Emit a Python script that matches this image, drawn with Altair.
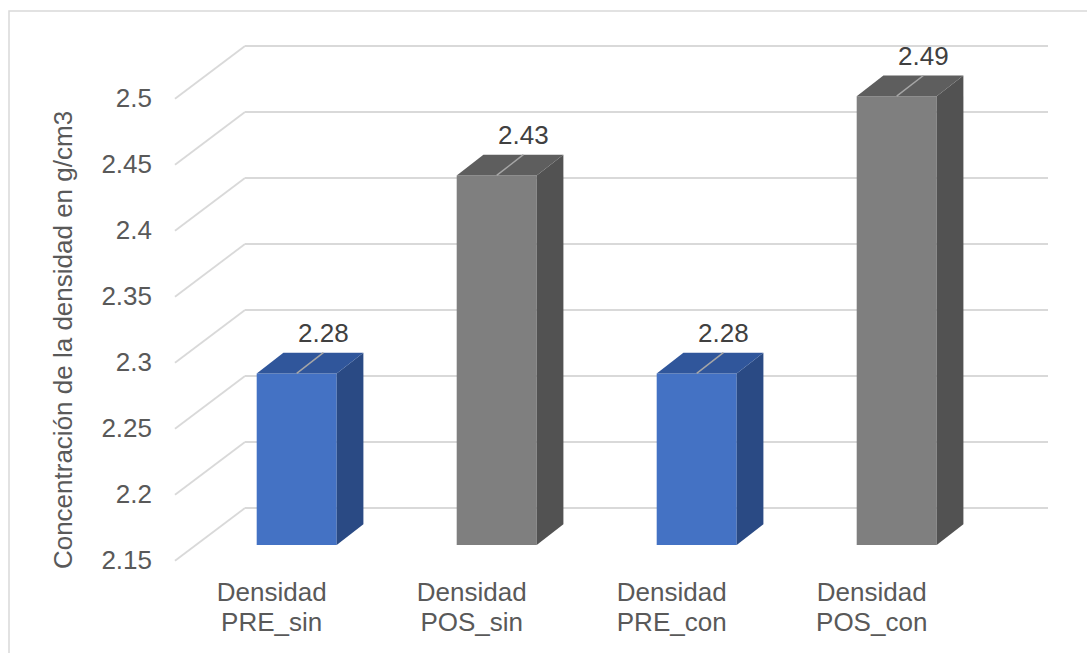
import altair as alt
import pandas as pd

# ---------------- data ----------------
categories = ["Densidad PRE_sin", "Densidad POS_sin", "Densidad PRE_con", "Densidad POS_con"]
cat_labels = ["Densidad\nPRE_sin", "Densidad\nPOS_sin", "Densidad\nPRE_con", "Densidad\nPOS_con"]
values = [2.28, 2.43, 2.28, 2.49]
value_labels = ["2.28", "2.43", "2.28", "2.49"]
front_colors = ["#4472C4", "#7F7F7F", "#4472C4", "#7F7F7F"]
top_colors = ["#30569B", "#5E5E5E", "#30569B", "#5E5E5E"]
side_colors = ["#2A4A84", "#525252", "#2A4A84", "#525252"]
ticks = [2.15, 2.2, 2.25, 2.3, 2.35, 2.4, 2.45, 2.5]
tick_labels = ["2.15", "2.2", "2.25", "2.3", "2.35", "2.4", "2.45", "2.5"]
y_title = "Concentración de la densidad en g/cm3"

# ---------------- geometry (3D oblique look) ----------------
W, H = 1087, 653
BASE = 2.15
PX0, SX = 296.7, 200.0        # pixel of category 0 centre, pixels per category
PY0, SY = 545.0, 1320.0       # pixel of BASE on the bar plane, pixels per unit
x_dom = [(0 - PX0) / SX, (W - PX0) / SX]
y_dom = [BASE - (H - PY0) / SY, BASE + PY0 / SY]

HALF = 0.2                    # half bar width (category units)
DX = 26.7 / SX                # bar depth, x
DY = 20.7 / SY                # bar depth, y
WALL_X0, WALL_X1 = (245 - PX0) / SX, (1048 - PX0) / SX
WALL_DY = 37.0 / SY
FRONT_X = (175 - PX0) / SX
FRONT_DY = -15.7 / SY
LABEL_SHIFT = -0.125

FONT = "Liberation Sans"
xs = alt.Scale(domain=x_dom, nice=False, zero=False)
ys = alt.Scale(domain=y_dom, nice=False, zero=False)

def X(f):
    return alt.X(f, type="quantitative", scale=xs, axis=None)

def Y(f):
    return alt.Y(f, type="quantitative", scale=ys, axis=None)

# tables
grid = pd.DataFrame({"t": ticks, "lab": tick_labels})
grid["wy"] = grid["t"] + WALL_DY
grid["fy"] = grid["t"] + FRONT_DY
grid["wx0"] = WALL_X0
grid["wx1"] = WALL_X1
grid["fx"] = FRONT_X

bars = pd.DataFrame({
    "name": categories, "v": values, "vl": value_labels, "cl": cat_labels,
    "fc": front_colors, "tc": top_colors, "sc": side_colors,
})
bars["i"] = range(len(bars))
bars["x0"] = bars["i"] - HALF
bars["x1"] = bars["i"] + HALF
bars["base"] = BASE
bars["lx0"] = bars["i"]
bars["lx1"] = bars["i"] + DX
bars["ly1"] = bars["v"] + DY
bars["cx"] = bars["i"] + LABEL_SHIFT

side_rows, top_rows = [], []
for r in bars.to_dict("records"):
    n, v, x0, x1 = r["name"], r["v"], r["x0"], r["x1"]
    side_rows.append({"name": n, "c": r["sc"], "x": x1, "y": BASE, "y2": v})
    side_rows.append({"name": n, "c": r["sc"], "x": x1 + DX, "y": BASE + DY, "y2": v + DY})
    top_rows.append({"name": n, "c": r["tc"], "x": x0, "y": v, "y2": v})
    top_rows.append({"name": n, "c": r["tc"], "x": x0 + DX, "y": v + DY, "y2": v})
    top_rows.append({"name": n, "c": r["tc"], "x": x1, "y": v + DY, "y2": v})
    top_rows.append({"name": n, "c": r["tc"], "x": x1 + DX, "y": v + DY, "y2": v + DY})
side = pd.DataFrame(side_rows)
top = pd.DataFrame(top_rows)

# ---------------- layers ----------------
border = alt.Chart(pd.DataFrame({"a": [0]})).mark_rect(
    fill=None, stroke="#D9D9D9", strokeWidth=1.5
).encode(x=alt.value(9), x2=alt.value(W + 20), y=alt.value(11), y2=alt.value(H + 20))

wall = alt.Chart(grid).mark_rule(color="#D9D9D9", strokeWidth=1.8).encode(
    x=X("wx0"), x2="wx1", y=Y("wy"))
diag = alt.Chart(grid).mark_rule(color="#D9D9D9", strokeWidth=1.8).encode(
    x=X("fx"), x2="wx0", y=Y("fy"), y2="wy")
tick_text = alt.Chart(grid).mark_text(
    align="right", baseline="middle", dx=-23, font=FONT, fontSize=26, color="#595959"
).encode(x=X("fx"), y=Y("fy"), text="lab")

front = alt.Chart(bars).mark_rect().encode(
    x=X("x0"), x2="x1", y=Y("base"), y2="v",
    color=alt.Color("fc", type="nominal", scale=None))
side_l = alt.Chart(side).mark_area(orient="vertical").encode(
    x=X("x"), y=Y("y"), y2="y2", detail="name",
    color=alt.Color("c", type="nominal", scale=None))
top_l = alt.Chart(top).mark_area(orient="vertical").encode(
    x=X("x"), y=Y("y"), y2="y2", detail="name",
    color=alt.Color("c", type="nominal", scale=None))
leader = alt.Chart(bars).mark_rule(color="#A6A6A6", strokeWidth=1.5).encode(
    x=X("lx0"), x2="lx1", y=Y("v"), y2="ly1")
val_text = alt.Chart(bars).mark_text(
    align="center", baseline="middle", dy=-19, font=FONT, fontSize=26, color="#404040"
).encode(x=X("lx1"), y=Y("ly1"), text="vl")
cat_text = alt.Chart(bars).mark_text(
    align="center", baseline="alphabetic", dy=56, font=FONT, fontSize=26,
    color="#595959", lineBreak="\n", lineHeight=30
).encode(x=X("cx"), y=Y("base"), text="cl")
title = alt.Chart(pd.DataFrame({"t": [y_title]})).mark_text(
    angle=270, align="center", baseline="middle", font=FONT, fontSize=26, color="#595959"
).encode(x=alt.value(64), y=alt.value(340), text="t")

chart = alt.layer(
    border, wall, diag, tick_text, front, side_l, top_l, leader, val_text, cat_text, title
).properties(
    width=W, height=H, autosize=alt.AutoSizeParams(type="none"), padding=0, background="white"
).configure_view(stroke=None)

chart.save("out.html", embed_options={"renderer": "svg", "actions": False})
